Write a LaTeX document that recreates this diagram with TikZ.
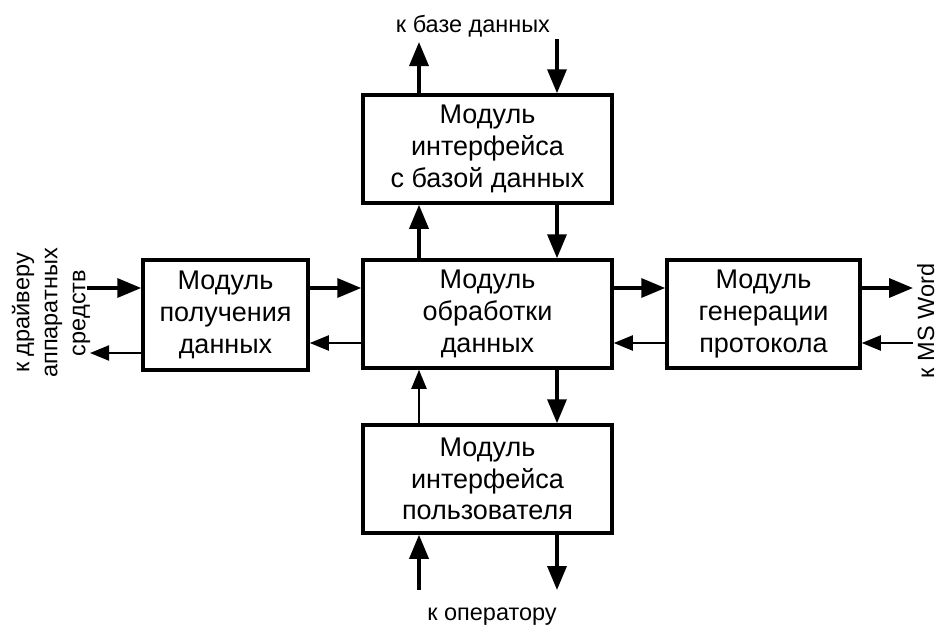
\documentclass[tikz,border=0pt]{standalone}
\usepackage{fontspec}
\setmainfont{Liberation Sans}
\usetikzlibrary{arrows.meta}
\begin{document}
\begin{tikzpicture}[x=1pt,y=-1pt,
  modbox/.style={draw, line width=3.5pt, align=center, inner sep=0pt,
    font=\fontsize{27}{31.7}\selectfont},
  thickarr/.style={line width=3.5pt, -{Triangle[length=24pt,width=19pt]}},
  thinarr/.style={line width=2pt, -{Triangle[length=19pt,width=15pt]}},
  lbl/.style={inner sep=0pt, align=center, font=\fontsize{23.5}{28}\selectfont}]
\useasboundingbox (0,0) rectangle (938,627);
% boxes
\node[modbox, minimum width=249pt, minimum height=108pt] (tb) at (487.5,149)
  {Модуль\\интерфейса\\с базой данных};
\node[modbox, minimum width=249pt, minimum height=108pt] (cb) at (487.5,314)
  {Модуль\\обработки\\данных};
\node[modbox, minimum width=165pt, minimum height=110pt] (lb) at (225.5,315)
  {Модуль\\получения\\данных};
\node[modbox, minimum width=193pt, minimum height=108pt] (rb) at (763.5,314)
  {Модуль\\генерации\\протокола};
\node[modbox, minimum width=249pt, minimum height=108pt] (bb) at (487.5,479)
  {Модуль\\интерфейса\\пользователя};
% x / y guide coordinates
\coordinate (xa) at (419,0);
\coordinate (xb) at (557,0);
\coordinate (ya) at (0,288);
\coordinate (yb) at (0,343);
\coordinate (yc) at (0,353);
% free ends
\coordinate (dbup) at (419,42);
\coordinate (dbdn) at (557,39);
\coordinate (opup) at (419,590);
\coordinate (opdn) at (557,590);
\coordinate (drin) at (87,288);
\coordinate (drout) at (90,353);
\coordinate (wout) at (913,288);
\coordinate (win) at (913,343);
% labels
\node[lbl, anchor=base] (dbl) at (473,32) {к базе данных};
\node[lbl, anchor=base] (opl) at (492,620) {к оператору};
\node[lbl, rotate=90] (drl) at (51,313) {к драйверу\\аппаратных\\средств};
\node[lbl, rotate=90, anchor=base] (wl) at (934,321) {к MS Word};
% top
\draw[thickarr] (xa |- tb.north) -- (dbup);
\draw[thickarr] (dbdn) -- (xb |- tb.north);
\draw[thickarr] (xa |- cb.north) -- (xa |- tb.south);
\draw[thickarr] (xb |- tb.south) -- (xb |- cb.north);
% bottom
\draw[thinarr] (xa |- bb.north) -- (xa |- cb.south);
\draw[thickarr] (xb |- cb.south) -- (xb |- bb.north);
\draw[thickarr] (opup) -- (xa |- bb.south);
\draw[thickarr] (xb |- bb.south) -- (opdn);
% left
\draw[thickarr] (drin) -- (ya -| lb.west);
\draw[thinarr] (yc -| lb.west) -- (drout);
\draw[thickarr] (ya -| lb.east) -- (ya -| cb.west);
\draw[thinarr] (yb -| cb.west) -- (yb -| lb.east);
% right
\draw[thickarr] (ya -| cb.east) -- (ya -| rb.west);
\draw[thinarr] (yb -| rb.west) -- (yb -| cb.east);
\draw[thickarr] (ya -| rb.east) -- (wout);
\draw[thinarr] (win) -- (yb -| rb.east);
\end{tikzpicture}
\end{document}
